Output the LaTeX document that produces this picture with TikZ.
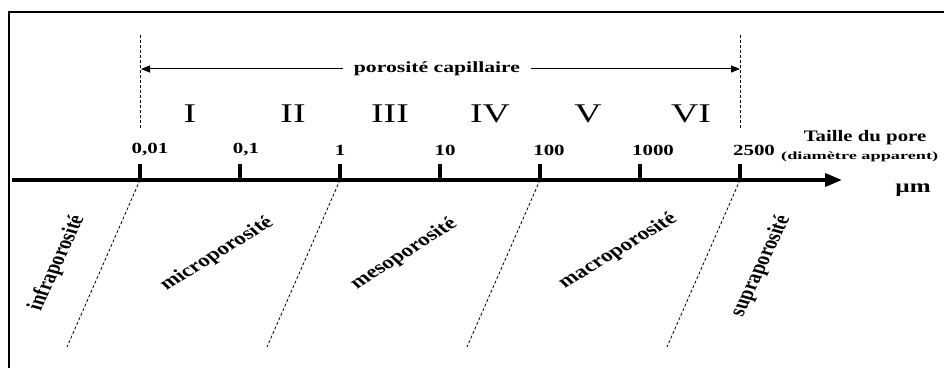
\documentclass[tikz,border=0pt]{standalone}
\usepackage{fontspec}
\setmainfont{Liberation Serif}
\usepackage{graphicx}
\usetikzlibrary{arrows.meta}
% horizontally widened text
\newcommand{\wide}[2][1.4]{\scalebox{#1}[1]{#2}}
\begin{document}
\begin{tikzpicture}[x=1pt,y=1pt,
  frameline/.style={line width=2.5pt},
  axisline/.style={line width=3.5pt, -{Triangle[length=17pt,width=13pt]}},
  tickmark/.style={line width=4.3pt},
  guide/.style={line width=0.8pt, dash pattern=on 3pt off 2pt},
  caparrow/.style={line width=1pt, -{Triangle[length=9pt,width=7pt]}},
  ticklabel/.style={font=\bfseries\fontsize{15.5}{18}\selectfont, inner sep=0pt},
  roman/.style={font=\fontsize{27}{30}\selectfont, inner sep=0pt},
  zonelabel/.style={font=\bfseries\fontsize{18}{21}\selectfont, inner sep=0pt, transform shape},
  unitlabel/.style={font=\bfseries\fontsize{16}{18}\selectfont, inner sep=0pt},
]
\useasboundingbox (0,0) rectangle (944,367);

% frame (top and left edges)
\draw[frameline] (9,-5) -- (9,355) -- (960,355);

% size axis
\coordinate (ax0) at (12,187);
\coordinate (ax1) at (842,187);
\draw[axisline] (ax0) -- (ax1);

% tick positions
\foreach \n/\x in {1/140,2/240,3/340,4/440,5/540,6/640,7/740}{
  \coordinate (t\n) at (\x,187);
  \draw[tickmark] (t\n) -- ++(0,16);
}

% tick labels
\node[ticklabel] (l1) at (150,217) {\wide[1.35]{0,01}};
\node[ticklabel] (l2) at (246,217) {\wide[1.35]{0,1}};
\node[ticklabel] (l3) at (340,217) {\wide[1.35]{1}};
\node[ticklabel] (l4) at (445,217) {\wide[1.35]{10}};
\node[ticklabel] (l5) at (549,217) {\wide[1.35]{100}};
\node[ticklabel] (l6) at (653,217) {\wide[1.35]{1000}};
\node[ticklabel] (l7) at (754,217) {\wide[1.35]{2500}};

% classes
\node[roman] (r1) at (190,253) {\wide{I}};
\node[roman] (r2) at (293,253) {\wide{II}};
\node[roman] (r3) at (390,253) {\wide{III}};
\node[roman] (r4) at (490,253) {\wide{IV}};
\node[roman] (r5) at (588,253) {\wide{V}};
\node[roman] (r6) at (691,253) {\wide{VI}};

% limits of the capillary range
\coordinate (v1b) at (140,239);
\coordinate (v1t) at (140,332);
\coordinate (v2b) at (740,239);
\coordinate (v2t) at (740,332);
\draw[guide] (v1b) -- (v1t);
\draw[guide] (v2b) -- (v2t);

% capillary porosity span
\node[font=\bfseries\fontsize{15.5}{18}\selectfont, inner ysep=0pt, inner xsep=11pt]
  (cap) at (437,298) {\wide{porosité capillaire}};
\coordinate (capL) at (141,298);
\coordinate (capR) at (740,298);
\draw[caparrow] (cap.west) -- (capL);
\draw[caparrow] (cap.east) -- (capR);

% axis title and unit
\node[unitlabel] (ttl) at (865,229) {\wide[1.3]{Taille du pore}};
\node[font=\bfseries\fontsize{11}{13}\selectfont, inner sep=0pt, anchor=west]
  (sub) at (781,210) {\wide[1.66]{(diamètre apparent)}};
\node[font=\bfseries\fontsize{18.5}{21}\selectfont, inner sep=0pt]
  (unit) at (913,177) {\wide[1.35]{µm}};

% boundaries between porosity domains
\draw[guide] (t1) -- ++(-73,-167) coordinate (g1);
\draw[guide] (t3) -- ++(-73,-167) coordinate (g3);
\draw[guide] (t5) -- ++(-73,-167) coordinate (g5);
\draw[guide] (t7) -- ++(-73,-167) coordinate (g7);

% porosity domains
\begin{scope}[shift={(57,104)}, xscale=1.3]
  \node[zonelabel, rotate=70.3] (infra) at (0,0) {infraporosité};
\end{scope}
\begin{scope}[shift={(217,113)}, xscale=1.3]
  \node[zonelabel, rotate=38.7] (micro) at (0,0) {microporosité};
\end{scope}
\begin{scope}[shift={(404,113)}, xscale=1.3]
  \node[zonelabel, rotate=39.6] (meso) at (0,0) {mesoporosité};
\end{scope}
\begin{scope}[shift={(618,116)}, xscale=1.3]
  \node[zonelabel, rotate=38] (macro) at (0,0) {macroporosité};
\end{scope}
\begin{scope}[shift={(761,101)}, xscale=1.3]
  \node[zonelabel, rotate=69.9] (supra) at (0,0) {supraporosité};
\end{scope}
\end{tikzpicture}
\end{document}
